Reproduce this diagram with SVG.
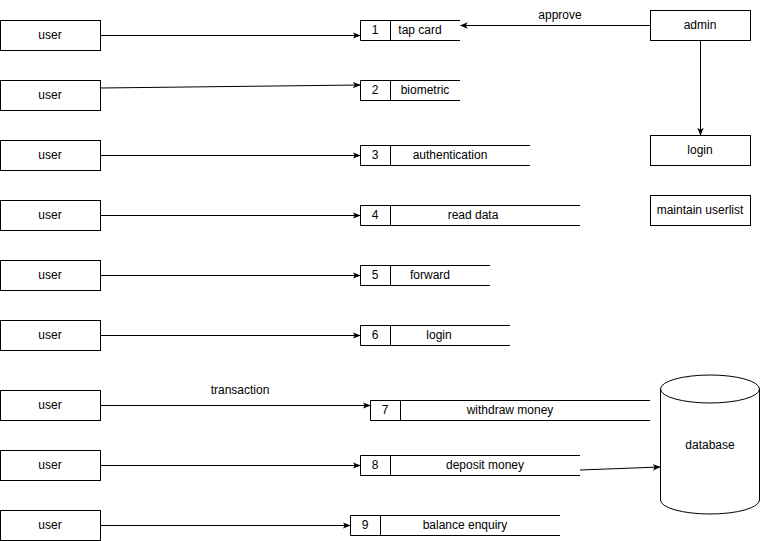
<svg xmlns="http://www.w3.org/2000/svg" width="761" height="541" viewBox="0 0 761 541">
<style>
rect{fill:#fff;stroke:#000;stroke-width:1}
.ln{fill:none;stroke:#000;stroke-width:1}
text{font-family:"Liberation Sans",Arial,sans-serif;font-size:12px;fill:#000;text-anchor:middle;dominant-baseline:central}
</style>
<defs>
<marker id="a" viewBox="0 0 10 10" refX="9" refY="5" markerWidth="8" markerHeight="8" orient="auto" markerUnits="userSpaceOnUse">
<path d="M0,1 L10,5 L0,9 L2.5,5 Z" fill="#000"/>
</marker>
</defs>
<g id="users">
<g id="user1"><rect x="0.5" y="20.5" width="100" height="30"/><text x="50" y="35">user</text></g>
<g id="user2"><rect x="0.5" y="80.5" width="100" height="30"/><text x="50" y="95">user</text></g>
<g id="user3"><rect x="0.5" y="140.5" width="100" height="30"/><text x="50" y="155">user</text></g>
<g id="user4"><rect x="0.5" y="200.5" width="100" height="30"/><text x="50" y="215">user</text></g>
<g id="user5"><rect x="0.5" y="260.5" width="100" height="30"/><text x="50" y="275">user</text></g>
<g id="user6"><rect x="0.5" y="320.5" width="100" height="30"/><text x="50" y="335">user</text></g>
<g id="user7"><rect x="0.5" y="390.5" width="100" height="30"/><text x="50" y="405">user</text></g>
<g id="user8"><rect x="0.5" y="450.5" width="100" height="30"/><text x="50" y="465">user</text></g>
<g id="user9"><rect x="0.5" y="510.5" width="100" height="30"/><text x="50" y="525">user</text></g>
</g>
<g id="ds1"><path class="ln" d="M460,20.5 H360.5 V40.5 H460 M390.5,20.5 V40.5"/><text x="375" y="30">1</text><text x="420" y="30">tap card</text></g>
<g id="ds2"><path class="ln" d="M460,80.5 H360.5 V100.5 H460 M390.5,80.5 V100.5"/><text x="375" y="90">2</text><text x="425" y="90">biometric</text></g>
<g id="ds3"><path class="ln" d="M530,145.5 H360.5 V165.5 H530 M390.5,145.5 V165.5"/><text x="375" y="155">3</text><text x="450" y="155">authentication</text></g>
<g id="ds4"><path class="ln" d="M580,205.5 H360.5 V225.5 H580 M390.5,205.5 V225.5"/><text x="375" y="215">4</text><text x="473" y="215">read data</text></g>
<g id="ds5"><path class="ln" d="M490,265.5 H360.5 V285.5 H490 M390.5,265.5 V285.5"/><text x="375" y="275">5</text><text x="430" y="275">forward</text></g>
<g id="ds6"><path class="ln" d="M510,325.5 H360.5 V345.5 H510 M390.5,325.5 V345.5"/><text x="375" y="335">6</text><text x="439" y="335">login</text></g>
<g id="ds7"><path class="ln" d="M650,400.5 H370.5 V420.5 H650 M400.5,400.5 V420.5"/><text x="385" y="410">7</text><text x="510" y="410">withdraw money</text></g>
<g id="ds8"><path class="ln" d="M580,455.5 H360.5 V475.5 H580 M390.5,455.5 V475.5"/><text x="375" y="465">8</text><text x="485" y="465">deposit money</text></g>
<g id="ds9"><path class="ln" d="M560,515.5 H350.5 V535.5 H560 M380.5,515.5 V535.5"/><text x="365" y="525">9</text><text x="465" y="525">balance enquiry</text></g>
<g id="admin"><rect x="650.5" y="10.5" width="100" height="30"/><text x="700" y="25">admin</text></g>
<g id="login"><rect x="650.5" y="135.5" width="100" height="30"/><text x="700" y="150">login</text></g>
<g id="maintain"><rect x="650.5" y="195.5" width="100" height="30"/><text x="700" y="210">maintain userlist</text></g>
<g id="database">
<path d="M660.5,389 A49.5,14 0 0 1 759.5,389 V500 A49.5,14 0 0 1 660.5,500 Z" fill="#fff" stroke="#000"/>
<path class="ln" d="M660.5,389 A49.5,14 0 0 0 759.5,389"/>
<text x="710" y="445">database</text>
</g>
<g id="connectors">
<path class="ln" d="M100.5,35.5 L360,35.5" marker-end="url(#a)"/>
<path class="ln" d="M100.5,88 L360,85" marker-end="url(#a)"/>
<path class="ln" d="M100.5,155.5 L360,155.5" marker-end="url(#a)"/>
<path class="ln" d="M100.5,215.5 L360,215.5" marker-end="url(#a)"/>
<path class="ln" d="M100.5,275.5 L360,275.5" marker-end="url(#a)"/>
<path class="ln" d="M100.5,335.5 L360,335.5" marker-end="url(#a)"/>
<path class="ln" d="M100.5,405.5 L370,405.5" marker-end="url(#a)"/>
<path class="ln" d="M100.5,465.5 L360,465.5" marker-end="url(#a)"/>
<path class="ln" d="M100.5,525.5 L350,525.5" marker-end="url(#a)"/>
<path class="ln" d="M650,25.5 L460.5,25.5" marker-end="url(#a)"/>
<path class="ln" d="M700.5,40.5 L700.5,135" marker-end="url(#a)"/>
<path class="ln" d="M580,470 L660,467" marker-end="url(#a)"/>
<text x="560" y="15">approve</text>
<text x="240" y="390">transaction</text>
</g>
</svg>
